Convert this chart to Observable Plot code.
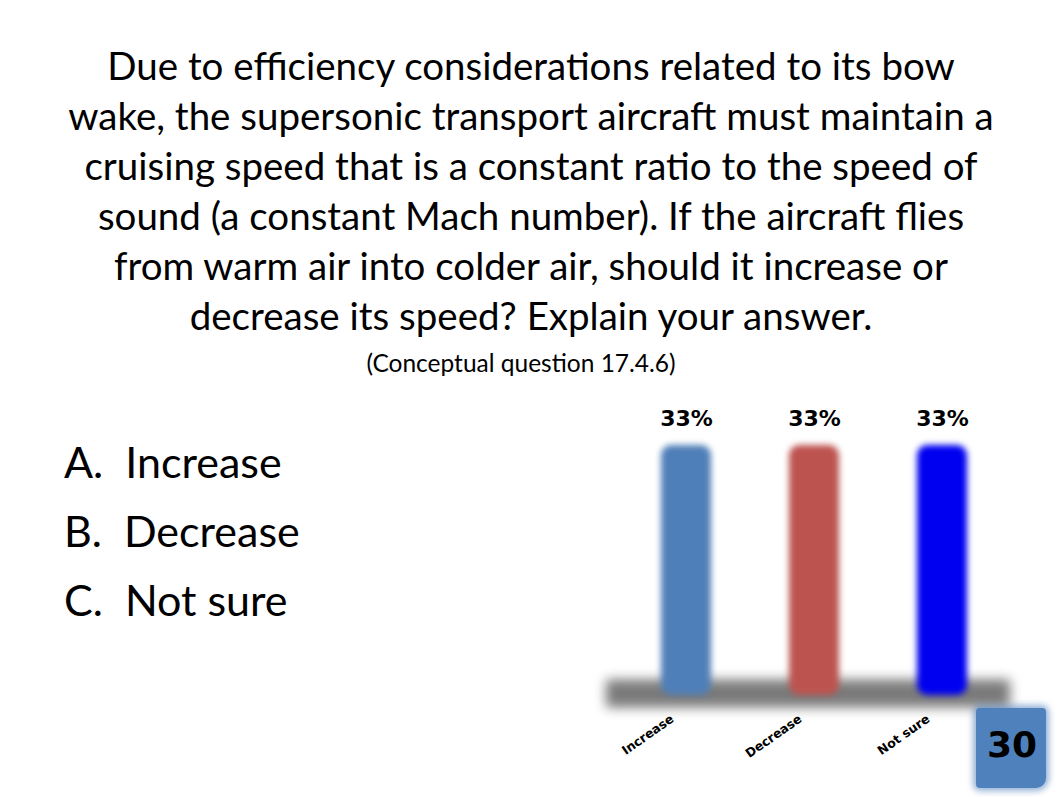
<!DOCTYPE html>
<html>
<head>
<meta charset="utf-8">
<script src="https://cdn.jsdelivr.net/npm/d3@7"></script>
<script src="https://cdn.jsdelivr.net/npm/@observablehq/plot@0.6"></script>
<style>
  html, body { margin: 0; padding: 0; background: #fff; }
  body { width: 1062px; height: 797px; position: relative; overflow: hidden; font-family: Lato, "Open Sans", sans-serif; color: #000; }
  #title { position: absolute; left: 0; top: 40px; width: 1062px; text-align: center; font-size: 38.5px; line-height: 50px; }
  #sub { position: absolute; left: 0; top: 348px; width: 1042px; text-align: center; font-size: 24.5px; }
  .ans { position: absolute; left: 64px; font-size: 43px; line-height: 40px; }
  #chart { position: absolute; left: 590px; top: 395px; }
  #pg { position: absolute; left: 976px; top: 708px; width: 70px; height: 80px; background: #4f81bd; border-radius: 4px 4px 10px 4px; box-shadow: 0 0 6px 3px rgba(79,129,189,0.6); }
  #pgn { position: absolute; left: 976px; top: 724px; width: 72px; text-align: center; font-size: 36px; font-weight: bold; font-family: "DejaVu Sans", sans-serif; }
</style>
</head>
<body>
<div id="title">Due to efficiency considerations related to its bow<br>wake, the supersonic transport aircraft must maintain a<br>cruising speed that is a constant ratio to the speed of<br>sound (a constant Mach number). If the aircraft flies<br>from warm air into colder air, should it increase or<br>decrease its speed? Explain your answer.</div>
<div id="sub">(Conceptual question 17.4.6)</div>
<div class="ans" style="top:442px">A.&nbsp; Increase</div>
<div class="ans" style="top:511px">B.&nbsp; Decrease</div>
<div class="ans" style="top:580px">C.&nbsp;&nbsp;Not sure</div>
<div id="chart"></div>
<div id="pg"></div>
<div id="pgn">30</div>
<script>
const categories = ["Increase", "Decrease", "Not sure"];
const percents = [33, 33, 33];
const barColors = ["#4f7fb8", "#bd534f", "#0000f0"];

const data = categories.map((c, i) => ({category: c, value: percents[i], color: barColors[i]}));

const chart = Plot.plot({
  width: 460,
  height: 370,
  marginLeft: 32,
  marginRight: 44,
  marginTop: 50,
  marginBottom: 70,
  style: {fontFamily: "DejaVu Sans, sans-serif", background: "transparent", overflow: "visible"},
  x: {domain: categories, paddingInner: 0.61, paddingOuter: 0.305, label: null},
  y: {domain: [0, 33], axis: null},
  marks: [
    Plot.ruleY([0], {stroke: "#7a7a7a", strokeWidth: 28, dy: -2, insetLeft: -16, insetRight: -4}),
    Plot.barY(data, {x: "category", y: "value", fill: "color", rx: 10}),
    Plot.text(data, {x: "category", y: "value", text: d => d.value + "%", dy: -27, fontSize: 22, fontWeight: "bold", fill: "#000"}),
    Plot.axisX({tickSize: 0, tickRotate: -35, tickPadding: 22, dx: -14, fontSize: 12.5, fontWeight: "bold", fill: "#000"})
  ]
});
document.getElementById("chart").appendChild(chart);
const rule = chart.querySelector('g[aria-label="rule"]');
if (rule) rule.style.filter = "blur(6px)";
const bars = chart.querySelector('g[aria-label="bar"]');
if (bars) bars.style.filter = "blur(3px)";
</script>
</body>
</html>
